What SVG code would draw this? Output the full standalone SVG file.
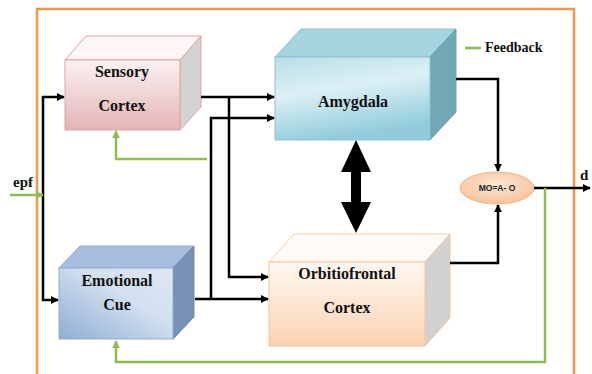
<svg xmlns="http://www.w3.org/2000/svg" width="592" height="374" viewBox="0 0 592 374">
<style>
.lbl{font-family:"Liberation Serif","Times New Roman",serif;font-weight:bold;font-size:16px;fill:#111;text-anchor:middle}
.conn{fill:none;stroke:#000;stroke-width:2.5}
.fb{fill:none;stroke:#8fbc4f;stroke-width:2.5}
</style>
<defs>
<marker id="ah" markerWidth="8" markerHeight="8" viewBox="0 0 10 10" refX="9" refY="5" orient="auto" markerUnits="userSpaceOnUse">
<path d="M0,0 L10,5 L0,10 z" fill="#000"/>
</marker>
<marker id="ahg" markerWidth="8" markerHeight="8" viewBox="0 0 10 10" refX="9" refY="5" orient="auto" markerUnits="userSpaceOnUse">
<path d="M0,0 L10,5 L0,10 z" fill="#8fbc4f"/>
</marker>
<linearGradient id="gS" x1="0" y1="0" x2="0" y2="1"><stop offset="0" stop-color="#fbf2f2"/><stop offset="1" stop-color="#e4b4b6"/></linearGradient>
<linearGradient id="gA" x1="0" y1="0" x2="0.3" y2="1"><stop offset="0" stop-color="#b8dee8"/><stop offset="0.45" stop-color="#dcf0f5"/><stop offset="1" stop-color="#92ccdb"/></linearGradient>
<linearGradient id="gE" x1="0" y1="1" x2="1" y2="0"><stop offset="0" stop-color="#8fadd4"/><stop offset="0.6" stop-color="#d3e0f0"/><stop offset="1" stop-color="#dfe8f3"/></linearGradient>
<linearGradient id="gO" x1="0" y1="0" x2="0" y2="1"><stop offset="0" stop-color="#fef8f3"/><stop offset="1" stop-color="#fbd2b0"/></linearGradient>
<radialGradient id="gM" cx="0.5" cy="0.4" r="0.6"><stop offset="0" stop-color="#fde6d4"/><stop offset="1" stop-color="#f7c39b"/></radialGradient>
</defs>

<rect width="592" height="374" fill="#fff"/>
<path d="M37 374 V9 H574 V374" fill="none" stroke="#f79646" stroke-width="2.5"/>

<g id="sensory-cortex">
<polygon points="65,60 86,36 201,36 180,60" fill="#fdf6f6" stroke="#dfa3a5" stroke-width="1"/>
<polygon points="180,60 201,36 201,107 180,130" fill="#d3d3d3" stroke="#dfa3a5" stroke-width="1"/>
<rect x="65" y="60" width="115" height="70" fill="url(#gS)" stroke="#dfa3a5" stroke-width="1"/>
<text class="lbl" x="122" y="77">Sensory</text>
<text class="lbl" x="122" y="111">Cortex</text>
</g>

<g id="amygdala">
<polygon points="275,57 301,29 456,29 430,57" fill="#a6d4df" stroke="#8cc4d2" stroke-width="1"/>
<polygon points="430,57 456,29 456,112 430,140" fill="#72a8b4" stroke="#6a9fab" stroke-width="1"/>
<rect x="275" y="57" width="155" height="83" fill="url(#gA)" stroke="#8cc4d2" stroke-width="1"/>
<text class="lbl" x="353" y="107">Amygdala</text>
</g>

<g id="emotional-cue">
<polygon points="59,268 80,246 194,246 173,268" fill="#a7bfde" stroke="#93acd0" stroke-width="1"/>
<polygon points="173,268 194,246 194,317 173,339" fill="#7891b4" stroke="#6f88ab" stroke-width="1"/>
<rect x="59" y="268" width="114" height="71" fill="url(#gE)" stroke="#93acd0" stroke-width="1"/>
<text class="lbl" x="117" y="286">Emotional</text>
<text class="lbl" x="117" y="310">Cue</text>
</g>

<g id="orbitofrontal-cortex">
<polygon points="269,262 294,234 450,234 425,262" fill="#fffaf6" stroke="#f9cfae" stroke-width="1"/>
<polygon points="425,262 450,234 450,318 425,346" fill="#d1d1d1" stroke="#f0c8a8" stroke-width="1"/>
<rect x="269" y="262" width="156" height="84" fill="url(#gO)" stroke="#f3c4a0" stroke-width="1"/>
<text class="lbl" x="347" y="279">Orbitiofrontal</text>
<text class="lbl" x="347" y="313">Cortex</text>
</g>

<g id="mo-node">
<ellipse cx="497" cy="188" rx="37" ry="16" fill="url(#gM)" stroke="#f2b58a" stroke-width="1"/>
<text x="497" y="191" font-family="Liberation Sans, Arial, sans-serif" font-weight="bold" font-size="8.5" fill="#222" text-anchor="middle">MO=A- O</text>
</g>

<g id="connectors">
<path class="conn" d="M201 97 H274" marker-end="url(#ah)"/>
<path class="conn" d="M229 97 V277 H268" marker-end="url(#ah)"/>
<path class="conn" d="M195 299 H268" marker-end="url(#ah)"/>
<path class="conn" d="M211 299 V118 H274" marker-end="url(#ah)"/>
<path class="conn" d="M456 79 H498 V171" marker-end="url(#ah)"/>
<path class="conn" d="M450 263 H498 V205" marker-end="url(#ah)"/>
<path class="conn" d="M534 188 H590" marker-end="url(#ah)"/>
<path class="conn" d="M43 198 V97 H64" marker-end="url(#ah)"/>
<path class="conn" d="M43 198 V300 H58" marker-end="url(#ah)"/>
<path class="fb" d="M10 195 H43" marker-end="url(#ahg)"/>
<path class="fb" d="M545 188 V362 H116 V341" marker-end="url(#ahg)"/>
<path class="fb" d="M207 159 H116 V131" marker-end="url(#ahg)"/>
<polygon points="356,140 371,172 361,172 361,202 371,202 356,233 341,202 351,202 351,172 341,172" fill="#000"/>
</g>

<g id="labels">
<text x="13" y="187" font-family="Liberation Serif, Times New Roman, serif" font-weight="bold" font-size="15" fill="#111">epf</text>
<text x="580" y="180" font-family="Liberation Serif, Times New Roman, serif" font-weight="bold" font-size="15" fill="#111">d</text>
<line x1="465" y1="48" x2="481" y2="48" stroke="#8fbc4f" stroke-width="2.5"/>
<text x="485" y="52" font-family="Liberation Serif, Times New Roman, serif" font-weight="bold" font-size="14" fill="#111">Feedback</text>
</g>
</svg>
